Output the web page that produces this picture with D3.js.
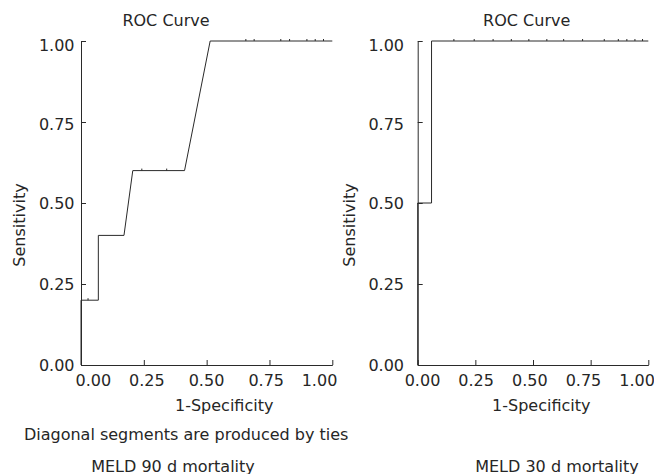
<!DOCTYPE html>
<html>
<head>
<meta charset="utf-8">
<script src="https://cdn.jsdelivr.net/npm/d3@7/dist/d3.min.js"></script>
<style>
  html, body { margin: 0; padding: 0; background: #fff; }
  svg { display: block; }
  text { font-family: "DejaVu Sans", Verdana, sans-serif; font-size: 16px; fill: #262626; }
</style>
</head>
<body>
<svg id="chart" width="654" height="474"></svg>
<script>
// ---- data ----
const tickValues = [0, 0.25, 0.5, 0.75, 1];
const tickLabels = ["0.00", "0.25", "0.50", "0.75", "1.00"];

// MELD 90 d mortality ROC curve (1-specificity, sensitivity)
const fpr90 = [0, 0, 0.069, 0.069, 0.171, 0.206, 0.412, 0.514, 1.0];
const tpr90 = [0, 0.2, 0.2, 0.4, 0.4, 0.6, 0.6, 1.0, 1.0];
// small point markers along the curve
const markFpr90 = [0.028, 0.242, 0.341, 0.656, 0.689, 0.795, 0.830, 0.899, 0.932, 0.965];
const markTpr90 = [0.2, 0.6, 0.6, 1, 1, 1, 1, 1, 1, 1];

// MELD 30 d mortality ROC curve
const fpr30 = [0, 0, 0.06, 0.06, 1.0];
const tpr30 = [0, 0.5, 0.5, 1.0, 1.0];
const markFpr30 = [0.157, 0.245, 0.327, 0.406, 0.482, 0.56, 0.633, 0.715, 0.809, 0.87, 0.907, 0.942, 0.975];
const markTpr30 = [1, 1, 1, 1, 1, 1, 1, 1, 1, 1, 1, 1, 1];

const titles = ["ROC Curve", "ROC Curve"];
const yTitle = "Sensitivity";
const xTitle = "1-Specificity";
const captions = ["MELD 90 d mortality", "MELD 30 d mortality"];
const note = "Diagonal segments are produced by ties";

// ---- layout ----
const svg = d3.select("#chart");
const ink = "#2a2a2a";

const panels = [
  {
    fpr: fpr90, tpr: tpr90, mf: markFpr90, mt: markTpr90,
    x0: 81, x1: 332.3, yTop: 41, yBot: 365,
    xLab: { dom: [0, 0.25, 0.75, 1], rng: [93.4, 146.8, 266.2, 319.5] },
    yLabRight: 74.5,
    titleX: 166, xTitleX: 224.2, yTitleX: 24.5, captionX: 173,
    title: titles[0], caption: captions[0], note: true
  },
  {
    fpr: fpr30, tpr: tpr30, mf: markFpr30, mt: markTpr30,
    x0: 417.7, x1: 648.3, yTop: 41, yBot: 365,
    xLab: { dom: [0, 1], rng: [422.5, 637.1] },
    yLabRight: 404,
    titleX: 526.7, xTitleX: 541.3, yTitleX: 355, captionX: 557,
    title: titles[1], caption: captions[1], note: false
  }
];

panels.forEach(p => {
  const x = d3.scaleLinear().domain([0, 1]).range([p.x0, p.x1]);
  const y = d3.scaleLinear().domain([0, 1]).range([p.yBot, p.yTop]);
  const xl = d3.scaleLinear().domain(p.xLab.dom).range(p.xLab.rng);
  const yl = d3.scaleLinear().domain([0, 0.5, 1]).range([p.yBot + 0.3, p.yBot - 161.7, p.yTop + 4.5]);

  const g = svg.append("g");

  // axes (inward ticks, labels drawn separately)
  const ax = g.append("g")
    .attr("transform", `translate(0,${p.yBot})`)
    .call(d3.axisBottom(x).tickValues(tickValues).tickSize(-5).tickSizeOuter(0).tickFormat(() => ""));
  const ay = g.append("g")
    .attr("transform", `translate(${p.x0},0)`)
    .call(d3.axisLeft(y).tickValues(tickValues).tickSize(-5).tickSizeOuter(0).tickFormat(() => ""));
  [ax, ay].forEach(a => {
    a.selectAll("path, line").attr("stroke", ink).attr("stroke-width", 1);
    a.selectAll("text").remove();
  });

  // tick labels
  g.selectAll(".xl").data(tickValues).join("text")
    .attr("x", (d) => xl(d)).attr("y", p.yBot + 20.5)
    .attr("text-anchor", "middle")
    .text((d, i) => tickLabels[i]);
  g.selectAll(".yl").data(tickValues).join("text")
    .attr("x", p.yLabRight).attr("y", d => yl(d)).attr("dy", "0.36em")
    .attr("text-anchor", "end")
    .text((d, i) => tickLabels[i]);

  // ROC curve
  const pts = p.fpr.map((f, i) => [f, p.tpr[i]]);
  g.append("path")
    .datum(pts)
    .attr("fill", "none")
    .attr("stroke", ink)
    .attr("stroke-width", 1)
    .attr("d", d3.line().x(d => x(d[0])).y(d => y(d[1])));

  // point markers
  g.selectAll(".mk").data(p.mf.map((f, i) => [f, p.mt[i]])).join("line")
    .attr("x1", d => x(d[0])).attr("x2", d => x(d[0]))
    .attr("y1", d => y(d[1])).attr("y2", d => y(d[1]) - 2)
    .attr("stroke", ink).attr("stroke-width", 1);

  // titles
  g.append("text").attr("x", p.titleX).attr("y", 25.5).attr("text-anchor", "middle").text(p.title);
  g.append("text").attr("x", p.xTitleX).attr("y", 411).attr("text-anchor", "middle").text(xTitle);
  g.append("text")
    .attr("transform", `translate(${p.yTitleX},225) rotate(-90)`)
    .attr("text-anchor", "middle").text(yTitle);
  g.append("text").attr("x", p.captionX).attr("y", 471.5).attr("text-anchor", "middle").text(p.caption);
  if (p.note) {
    g.append("text").attr("x", 186.2).attr("y", 440).attr("text-anchor", "middle").text(note);
  }
});
</script>
</body>
</html>
